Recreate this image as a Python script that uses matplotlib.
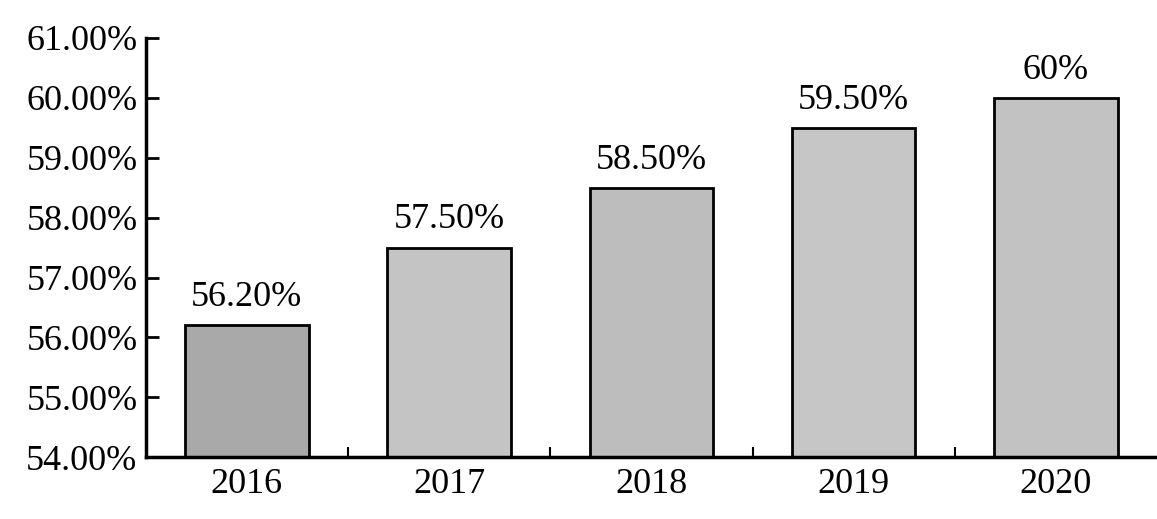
import matplotlib.pyplot as plt
import numpy as np

years = ["2016", "2017", "2018", "2019", "2020"]
values = [56.2, 57.5, 58.5, 59.5, 60.0]
labels = ["56.20%", "57.50%", "58.50%", "59.50%", "60%"]

bar_colors = ["#a9a9a9", "#c4c4c4", "#bdbdbd", "#c6c6c6", "#c2c2c2"]

plt.rcParams['font.family'] = ['Liberation Serif', 'DejaVu Serif']

fig = plt.figure(figsize=(11.57, 5.19), dpi=100)
ax = fig.add_axes([0.126, 0.119, 0.874, 0.808])

x = np.arange(len(years))
ax.bar(x, values, width=0.61, bottom=0, color=bar_colors,
       edgecolor="black", linewidth=2, zorder=2)

for xi, v, lab in zip(x, values, labels):
    ax.annotate(lab, (xi, v), xytext=(0, 8), textcoords="offset points",
                ha="center", va="bottom", fontsize=26)

ax.set_ylim(54, 61)
ax.set_xlim(-0.5, 4.5)
ax.set_yticks(np.arange(54, 62, 1))
ax.set_yticklabels([f"{t:.2f}%" for t in np.arange(54, 62, 1)], fontsize=26)
ax.set_xticks(x)
ax.set_xticklabels(years, fontsize=26)
ax.set_xticks(np.arange(0.5, 4.5, 1), minor=True)

ax.tick_params(axis="y", direction="in", length=9, width=2, pad=6)
ax.tick_params(axis="x", which="major", length=0, pad=8)
ax.tick_params(axis="x", which="minor", direction="in", length=7, width=1.5)

for side in ["top", "right"]:
    ax.spines[side].set_visible(False)
for side in ["left", "bottom"]:
    ax.spines[side].set_linewidth(2.5)

fig.savefig("out.png", dpi=100)
